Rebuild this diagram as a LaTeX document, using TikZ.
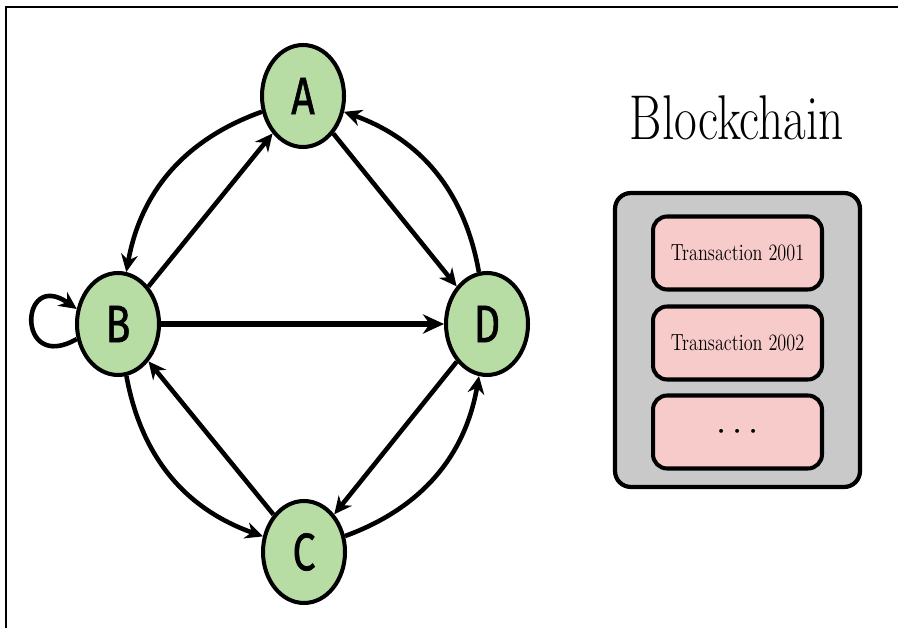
\documentclass[tikz,border=0pt]{standalone}
\usepackage{fontspec}
\newfontfamily\peerfont{Fira Sans}[FakeBold=1.2]
\usepackage{graphicx}
\usepackage{tikz}
\usetikzlibrary{shapes.geometric,arrows.meta}
\definecolor{peergreen}{RGB}{184,221,164}
\definecolor{txpink}{RGB}{248,203,203}
\definecolor{chaingray}{RGB}{201,201,201}
\newcommand{\squeeze}[1]{\scalebox{0.78}[1]{#1}}
\tikzstyle{peer node} = [ellipse,draw,line width=2.3pt,fill=peergreen,inner sep=0,
                         minimum width=1.64cm,minimum height=2.04cm,
                         font=\peerfont\fontsize{30}{30}\selectfont]
\tikzstyle{tx node}   = [draw,line width=2.3pt,fill=txpink,rounded corners=8pt,
                         minimum width=3.38cm,minimum height=1.46cm,
                         font=\fontsize{13.3}{15}\selectfont]

\begin{document}
\begin{tikzpicture}[x=0.02cm,y=0.02cm,
                    link/.style={draw,line width=2.6pt,-{Stealth[length=10pt,width=9.5pt]}},
                    thick link/.style={link,line width=3.6pt,-{Stealth[length=12pt,width=11pt]}}
                    ]
    \useasboundingbox (0,0) rectangle (898,628);
    \draw[line width=1.2pt] (6,0) -- (6,621) -- (898,621);

    % the four peers
    \node(A)[peer node] at (303,532) {\squeeze{A}};
    \node(B)[peer node] at (118,304) {\squeeze{B}};
    \node(D)[peer node] at (487,304) {\squeeze{D}};
    \node(C)[peer node] at (304,76)  {\squeeze{C}};

    % outer ring
    \draw[link] (A) to[bend right=30] (B);
    \draw[link] (B) to[bend right=30] (C);
    \draw[link] (C) to[bend right=30] (D);
    \draw[link] (D) to[bend right=30] (A);

    % straight links
    \draw[link] (B) -- (A);
    \draw[link] (A) -- (D);
    \draw[link] (D) -- (C);
    \draw[link] (C) -- (B);
    \draw[thick link] (B) -- (D);

    % self loop
    \draw[link] (B.200) to[out=210,in=145,looseness=6] (B.160);

    % the chain
    \node(title) at (737,510) {\fontsize{36}{40}\selectfont\squeeze{Blockchain}};
    \node(chain)[draw,line width=2.4pt,fill=chaingray,rounded corners=9pt,
                 minimum width=4.9cm,minimum height=5.88cm] at (737.5,288) {};
    \node(tx1)[tx node] at (737.5,375) {\squeeze{Transaction 2001}};
    \node(tx2)[tx node] at (737.5,285) {\squeeze{Transaction 2002}};
    \node(tx3)[tx node] at (737.5,196) {\fontsize{20}{20}\selectfont$\cdots$};

\end{tikzpicture}
\end{document}
